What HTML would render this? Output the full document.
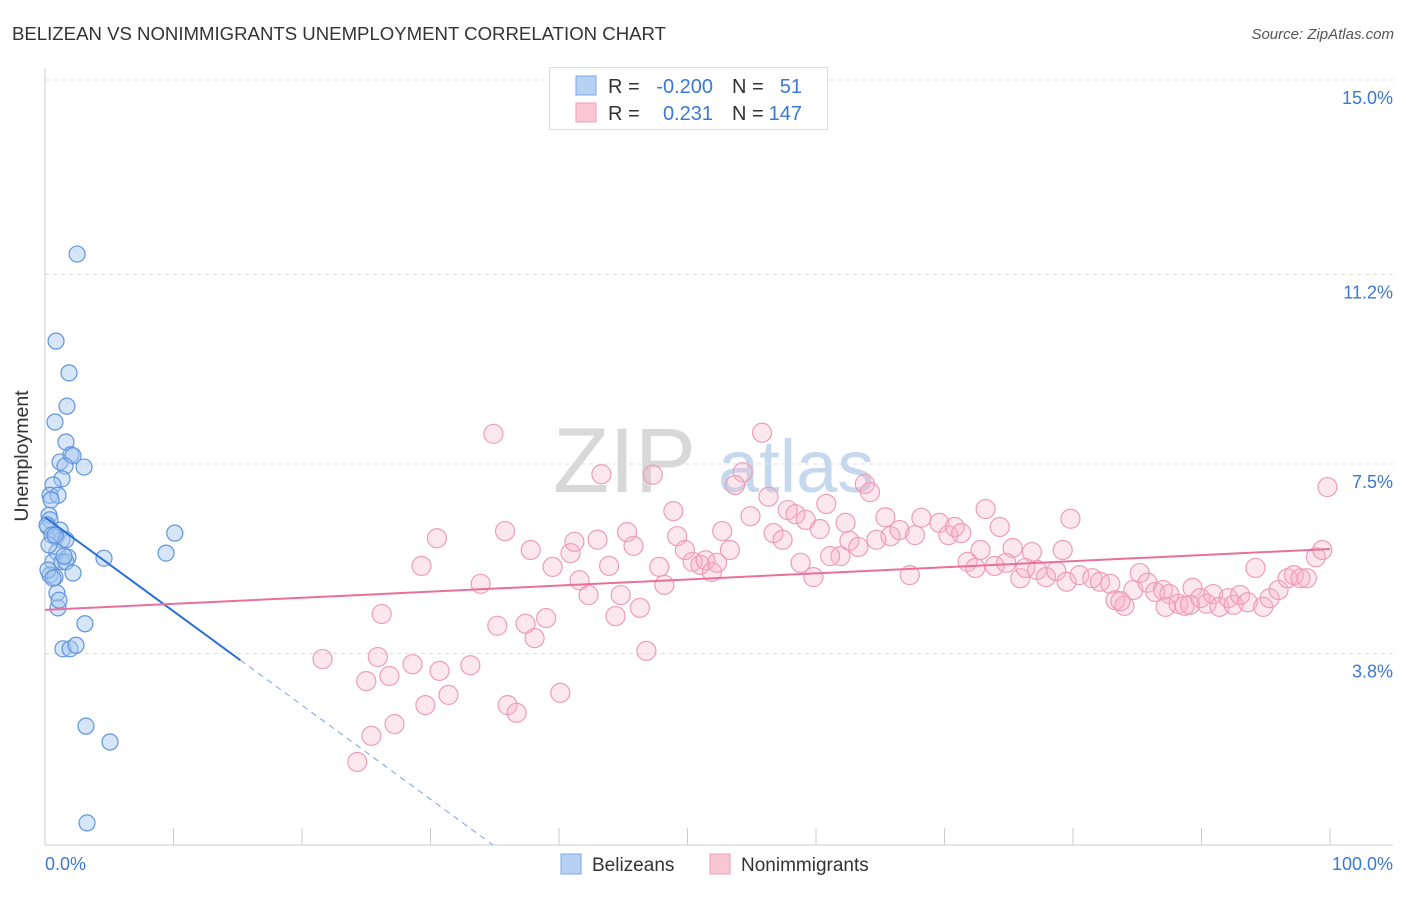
<!DOCTYPE html>
<html><head><meta charset="utf-8"><style>
body{margin:0;background:#fff;font-family:"Liberation Sans",sans-serif;}
svg text{font-family:"Liberation Sans",sans-serif;}
</style></head><body>
<svg id="chart" width="1406" height="892" xmlns="http://www.w3.org/2000/svg">
<text x="12" y="40" font-size="18.6" fill="#333">BELIZEAN VS NONIMMIGRANTS UNEMPLOYMENT CORRELATION CHART</text>
<text x="1394" y="39" font-size="15" fill="#555" font-style="italic" text-anchor="end">Source: ZipAtlas.com</text>
<g><text x="553" y="492" font-size="92" fill="#d8d8d8" font-family="Liberation Serif">ZIP</text><text x="718" y="492" font-size="74" fill="#c5d8ee">atlas</text></g>
<g id="grid"></g>
<g id="axes"></g>
<g id="pts"></g>
<g id="lines"></g>
<text x="28" y="456" font-size="19.5" fill="#333" text-anchor="middle" transform="rotate(-90 28 456)">Unemployment</text>
<g>
<rect x="549.5" y="67.5" width="278" height="62" fill="#fff" stroke="#ddd"/>
<rect x="576" y="76" width="20" height="19" fill="#b6d1f3" stroke="#7aa8e3"/>
<rect x="576" y="103" width="20" height="19" fill="#f9c6d4" stroke="#ee9db6"/>
<text x="608" y="93" font-size="20" fill="#333">R =</text><text x="713" y="93" font-size="20" fill="#3a78d4" text-anchor="end">-0.200</text>
<text x="732" y="93" font-size="20" fill="#333">N =</text><text x="802" y="93" font-size="20" fill="#3a78d4" text-anchor="end">51</text>
<text x="608" y="120" font-size="20" fill="#333">R =</text><text x="713" y="120" font-size="20" fill="#3a78d4" text-anchor="end">0.231</text>
<text x="732" y="120" font-size="20" fill="#333">N =</text><text x="802" y="120" font-size="20" fill="#3a78d4" text-anchor="end">147</text>
</g>
<g>
<rect x="561" y="854" width="20" height="20" fill="#b6d1f3" stroke="#7aa8e3"/>
<text x="592" y="871" font-size="19" fill="#333">Belizeans</text>
<rect x="710" y="854" width="20" height="20" fill="#f9c6d4" stroke="#ee9db6"/>
<text x="741" y="871" font-size="19" fill="#333">Nonimmigrants</text>
</g>
</svg>
<script>
const yTicks=[15.0,11.2,7.5,3.8];
const yTickLabels=["15.0%","11.2%","7.5%","3.8%"];
const xTickVals=[0,10,20,30,40,50,60,70,80,90,100];
const belX=[2.5,0.86,1.87,1.71,0.78,1.63,1.17,2.02,2.18,3.04,1.56,1.32,0.62,0.39,1.01,0.31,0.39,0.23,1.17,0.86,1.32,1.63,10.1,0.93,1.79,4.59,9.42,0.62,1.32,1.63,0.39,0.78,2.18,0.93,1.01,3.11,1.40,1.95,2.41,3.19,5.06,3.27,0.16,0.54,0.31,0.78,1.48,0.23,0.62,1.09,0.47];
const belY=[11.60,9.90,9.28,8.63,8.32,7.93,7.54,7.68,7.66,7.44,7.46,7.21,7.09,6.89,6.89,6.50,6.41,6.27,6.21,6.07,6.02,6.02,6.15,5.78,5.68,5.66,5.76,5.59,5.59,5.59,5.33,5.29,5.37,4.98,4.69,4.38,3.89,3.89,3.96,2.38,2.07,0.49,6.31,6.11,5.92,6.11,5.70,5.43,5.27,4.84,6.80];
const nonX=[34.9,55.8,43.3,47.3,54.3,53.7,63.8,64.2,56.3,60.8,48.9,54.9,57.8,58.4,59.2,73.2,79.8,99.8,35.8,30.5,37.8,40.9,41.2,43.0,45.3,45.8,49.2,49.8,52.7,53.3,56.7,57.4,60.3,62.3,62.6,61.9,63.3,64.7,65.4,65.8,66.5,67.7,68.2,69.6,70.3,70.8,71.3,74.3,72.8,75.3,76.8,79.2,29.3,33.9,39.5,41.6,42.3,43.9,44.8,46.3,47.8,48.2,50.4,51.0,51.4,51.9,52.3,58.8,59.8,61.1,67.3,71.8,72.4,73.9,74.8,75.9,76.3,77.2,77.9,78.7,79.5,80.5,81.5,82.1,82.9,83.3,84.0,84.7,85.2,85.8,86.4,87.0,87.5,88.2,88.7,89.3,89.9,90.4,90.9,91.4,92.1,92.5,93.0,93.6,94.2,94.8,95.3,96.0,96.7,97.2,97.7,98.2,98.9,99.4,26.2,37.4,39.0,35.2,38.1,44.4,46.8,21.6,25.9,28.6,33.1,25.0,26.8,30.7,31.4,29.6,36.0,36.7,40.1,27.2,25.4,24.3,83.7,87.2,89.1];
const nonY=[8.09,8.11,7.30,7.29,7.34,7.09,7.11,6.95,6.86,6.72,6.58,6.48,6.60,6.52,6.41,6.62,6.43,7.05,6.19,6.05,5.82,5.76,5.98,6.02,6.17,5.90,6.09,5.82,6.19,5.82,6.15,6.02,6.23,6.35,6.00,5.70,5.88,6.02,6.46,6.09,6.21,6.11,6.45,6.35,6.11,6.27,6.15,6.27,5.82,5.86,5.78,5.82,5.51,5.16,5.49,5.23,4.94,5.51,4.94,4.69,5.49,5.14,5.59,5.53,5.62,5.39,5.57,5.57,5.29,5.70,5.33,5.59,5.47,5.51,5.57,5.27,5.47,5.43,5.29,5.41,5.20,5.33,5.27,5.20,5.16,4.84,4.73,5.04,5.37,5.18,5.00,5.04,4.96,4.77,4.73,5.08,4.88,4.77,4.96,4.71,4.88,4.75,4.94,4.80,5.47,4.71,4.88,5.04,5.27,5.33,5.27,5.27,5.68,5.82,4.57,4.38,4.49,4.34,4.10,4.53,3.85,3.69,3.73,3.59,3.57,3.26,3.36,3.46,2.99,2.79,2.79,2.64,3.03,2.42,2.19,1.68,4.82,4.71,4.75];
const belTrend=[6.46,-0.1836];
const nonTrend=[4.65,0.0119];
const NS="http://www.w3.org/2000/svg";
const X0=45,X1=1330,YTOP=80,PX=51.2;
function sx(v){return X0+(X1-X0)*v/100;}
function sy(v){return YTOP+(15-v)*PX;}
function mk(t,a,p){const e=document.createElementNS(NS,t);for(const k in a)e.setAttribute(k,a[k]);p.appendChild(e);return e;}
const grid=document.getElementById('grid'),axes=document.getElementById('axes'),pts=document.getElementById('pts'),lines=document.getElementById('lines');
yTicks.forEach((v,i)=>{
 const l=mk('line',{x1:X0,x2:1393,y1:sy(v),y2:sy(v),stroke:'#ddd','stroke-dasharray':'4,4'},grid);
 
 
 const t=mk('text',{x:1393,y:sy(v)+24,'font-size':18,fill:'#3a78d4','text-anchor':'end'},grid);t.textContent=yTickLabels[i];
 
 
});
mk('line',{x1:X0,x2:X0,y1:68,y2:845,stroke:'#ccc'},axes);
mk('line',{x1:X0,x2:1393,y1:845,y2:845,stroke:'#ccc'},axes);
xTickVals.forEach(v=>{const l=mk('line',{x1:sx(v),x2:sx(v),y1:828,y2:845,stroke:'#ccc'},axes);
 
 });
let t0=mk('text',{x:45,y:870,'font-size':18,fill:'#3a78d4'},axes);t0.textContent='0.0%';


let t1=mk('text',{x:1393,y:870,'font-size':18,fill:'#3a78d4','text-anchor':'end'},axes);t1.textContent='100.0%';


nonX.forEach((x,i)=>{const c=mk('circle',{cx:sx(x),cy:sy(nonY[i]),r:9.5,fill:'rgba(248,175,198,0.3)',stroke:'#ee9db6','stroke-width':1.2},pts);
 
 });
belX.forEach((x,i)=>{const c=mk('circle',{cx:sx(x),cy:sy(belY[i]),r:8,fill:'rgba(165,198,240,0.45)',stroke:'#5f95dd','stroke-width':1.2},pts);
 
 });
const yBottom=15-(845-YTOP)/PX;
const bEnd=15.2,bZero=(yBottom-belTrend[0])/belTrend[1];
let bl=mk('line',{x1:sx(0),y1:sy(belTrend[0]),x2:sx(bEnd),y2:sy(belTrend[0]+belTrend[1]*bEnd),stroke:'#2a6fd6','stroke-width':2},lines);


let bd=mk('line',{x1:sx(bEnd),y1:sy(belTrend[0]+belTrend[1]*bEnd),x2:sx(bZero),y2:sy(yBottom),stroke:'#7aa3df','stroke-width':1,'stroke-dasharray':'6,5'},lines);


let nl=mk('line',{x1:sx(0),y1:sy(nonTrend[0]),x2:sx(100),y2:sy(nonTrend[0]+nonTrend[1]*100),stroke:'#e8709a','stroke-width':2},lines);


</script>
</body></html>
